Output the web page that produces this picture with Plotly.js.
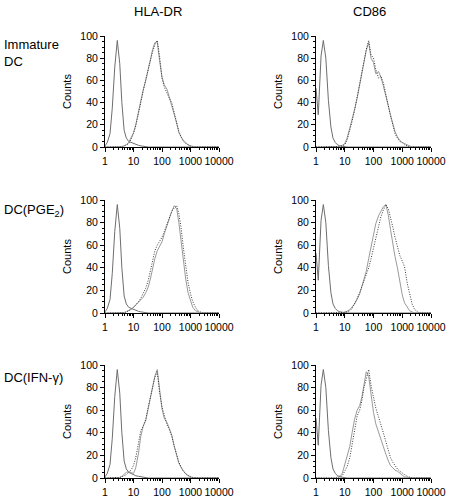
<!DOCTYPE html>
<html>
<head>
<meta charset="utf-8">
<script src="https://cdn.plot.ly/plotly-3.0.1.min.js"></script>
<style>html,body{margin:0;padding:0;background:#fff;}#chart{width:452px;height:498px;}</style>
</head>
<body>
<div id="chart"></div>
<script>
// Fluorescence intensity channels (shared x grid)
var fluor = [1,1.2,1.5,1.8,2.2,2.7,3.3,3.9,4.7,5.6,6.8,8.2,10,12,15,18,22,27,33,39,47,56,68,82,100,120,150,180,220,270,330,390,470,560,680,820,1000,1200,1500,1800,2200,2700,3300,3900,4700,5600,6800,8200,10000];

var columnTitles = ["HLA-DR", "CD86"];
var rowLabels = ["Immature<br>DC", "DC(PGE<sub>2</sub>)", "DC(IFN-γ)"];

// isotype controls
var isoLeft  = [1,4,12,35,72,96,75,40,15,8,5,4,3,2,1.5,1,0.5,0.3,0,0,0,0,0,0,0,0,0,0,0,0,0,0,0,0,0,0,0,0,0,0,0,0,0,0,0,0,0,0,0];
var isoRight = [53,29,82,96,80,42,18,8,4,2,1,0.5,0,0,0,0,0,0,0,0,0,0,0,0,0,0,0,0,0,0,0,0,0,0,0,0,0,0,0,0,0,0,0,0,0,0,0,0,0];

// HLA-DR
var hlaImmA = [0,0,0,0,0,0,0,0.5,1,2,4,8,13,20,33,42,52,60,71,80,88,94,95,78,63,56,52,45,38,29,21,13,9,6,4,2,1,0.3,0,0,0,0,0,0,0,0,0,0,0];
var hlaImmB = [0,0,0,0,0,0,0,0,1,2,3,7,12,19,31,41,50,61,70,79,86,92,96,82,62,54,48,44,40,31,22,14,9,5,3,2,0.5,0,0,0,0,0,0,0,0,0,0,0,0];
var hlaPgeA = [0,0,0,0,0,0,0,0,0.5,1,2,3.5,5,7,9,11,14,18,23,30,40,48,55,59,63,70,78,85,90,95,92,80,62,45,30,18,10,5,2,1,0,0,0,0,0,0,0,0,0];
var hlaPgeB = [0,0,0,0,0,0,0,0,0,1,2,3,5,7,10,13,17,22,29,37,47,55,60,63,67,72,78,84,90,93,95,88,75,58,40,27,17,10,5,2,1,0,0,0,0,0,0,0,0];
var hlaIfnA = [0,0,0,0,0,0,0.5,1.5,3,5,5.5,4.5,4,9,22,37,46,51,62,73,83,90,96,78,61,53,49,44,38,28,19,13,9,6,3.5,2,1,0.3,0,0,0,0,0,0,0,0,0,0,0];
var hlaIfnB = [0,0,0,0,0,0,0.5,1,2,3,5,7,11,18,31,42,46,52,63,72,82,89,94,76,63,55,47,43,37,28,20,14,10,6,4,2.5,1,0.5,0,0,0,0,0,0,0,0,0,0,0];

// CD86
var cd86ImmA = [0,0,0,0,0,0,0,0,0,0.5,1,1.5,3,8,17,24,34,44,56,67,78,87,94,80,76,66,68,63,55,45,37,29,21,14,9,6,4,3,1.5,0.5,0,0,0,0,0,0,0,0,0];
var cd86ImmB = [0,0,0,0,0,0,0,0,0,0,0.5,1,2,6,15,23,33,45,57,68,80,88,96,83,80,70,62,64,58,46,36,28,20,12,8,5,4,2,1,0,0,0,0,0,0,0,0,0,0];
var cd86PgeA = [0,0,0,0,0,0,0,0,0,0,0,0,1,1.5,3,5,8,12,17,23,30,37,48,59,70,79,86,90,94,96,86,74,60,50,40,28,16,9,5,2,1,0,0,0,0,0,0,0,0];
var cd86PgeB = [0,0,0,0,0,0,0,0,0,0,0,0,0.5,1,2,4,8,13,18,23,29,35,40,48,58,67,77,85,91,96,92,83,76,67,58,51,46,41,26,16,8,3,1,0,0,0,0,0,0];
var cd86IfnA = [0,0,0,0,0,0,0,0,0,1,2,4,12,19,28,40,52,60,64,71,84,94,90,72,58,48,40,34,28,21,15,11,9,7,6,4,2.5,1,0.5,0,0,0,0,0,0,0,0,0,0];
var cd86IfnB = [0,0,0,0,0,0,0,0,0,0,1,2,6,10,18,30,44,55,60,68,80,89,96,82,72,62,54,48,40,32,24,18,14,11,8,6,4,3,1.5,0.5,0,0,0,0,0,0,0,0,0];

var panels = [
  {iso: isoLeft,  a: hlaImmA,  b: hlaImmB},
  {iso: isoRight, a: cd86ImmA, b: cd86ImmB},
  {iso: isoLeft,  a: hlaPgeA,  b: hlaPgeB},
  {iso: isoRight, a: cd86PgeA, b: cd86PgeB},
  {iso: isoLeft,  a: hlaIfnA,  b: hlaIfnB},
  {iso: isoRight, a: cd86IfnA, b: cd86IfnB}
];

var W = 452, H = 498;
var colPx = [[105, 219], [316, 431]];
var rowPx = [[36, 147], [200, 313], [365, 478]];

var traces = [];
var layout = {
  width: W, height: H,
  margin: {l: 0, r: 0, t: 0, b: 0},
  paper_bgcolor: "#fff", plot_bgcolor: "#fff",
  showlegend: false,
  font: {family: "Liberation Sans, Arial, sans-serif", size: 10.5, color: "#000"},
  annotations: []
};

panels.forEach(function (p, i) {
  var r = Math.floor(i / 2), c = i % 2;
  var n = i + 1;
  var xa = n === 1 ? "x" : "x" + n, ya = n === 1 ? "y" : "y" + n;
  var common = {x: fluor, xaxis: xa, yaxis: ya, mode: "lines", hoverinfo: "skip"};
  traces.push(Object.assign({}, common, {y: p.iso, line: {color: "#6e6e6e", width: 1}}));
  traces.push(Object.assign({}, common, {y: p.a, line: {color: "#9a9a9a", width: 1}}));
  traces.push(Object.assign({}, common, {y: p.b, line: {color: "#3a3a3a", width: 1, dash: "1px,1.5px"}}));

  var xKey = n === 1 ? "xaxis" : "xaxis" + n, yKey = n === 1 ? "yaxis" : "yaxis" + n;
  layout[xKey] = {
    domain: [colPx[c][0] / W, colPx[c][1] / W],
    anchor: ya, type: "log", range: [0, 4],
    tickvals: [1, 10, 100, 1000, 10000], ticktext: ["1", "10", "100", "1000", "10000"],
    ticks: "outside", ticklen: 4, tickwidth: 1, tickcolor: "#000",
    minor: {ticks: "outside", ticklen: 2, tickwidth: 1, tickcolor: "#000", tickvals: [2,3,4,5,6,7,8,9,20,30,40,50,60,70,80,90,200,300,400,500,600,700,800,900,2000,3000,4000,5000,6000,7000,8000,9000]},
    showline: true, linecolor: "#000", linewidth: 1,
    showgrid: false, zeroline: false, fixedrange: true,
    tickfont: {size: 10.5}
  };
  layout[yKey] = {
    domain: [1 - rowPx[r][1] / H, 1 - rowPx[r][0] / H],
    anchor: xa, range: [0, 100],
    tickvals: [0, 20, 40, 60, 80, 100],
    ticks: "outside", ticklen: 4, tickwidth: 1, tickcolor: "#000",
    minor: {ticks: "outside", ticklen: 2, tickwidth: 1, tickcolor: "#000", dtick: 5},
    showline: true, linecolor: "#000", linewidth: 1,
    showgrid: false, zeroline: false, fixedrange: true,
    tickfont: {size: 10.5},
    title: {text: "Counts", font: {size: 11}, standoff: 6}
  };
});

// column titles
columnTitles.forEach(function (t, c) {
  layout.annotations.push({text: t, xref: "paper", yref: "paper",
    x: ((colPx[c][0] + colPx[c][1]) / 2 - 4) / W, y: 1 - 11 / H,
    xanchor: "center", yanchor: "middle", showarrow: false, font: {size: 13}});
});
// row labels
var rowLabelY = [53, 210, 377];
rowLabels.forEach(function (t, r) {
  layout.annotations.push({text: t, xref: "paper", yref: "paper",
    x: 2 / W, y: 1 - rowLabelY[r] / H, xanchor: "left", yanchor: "middle", align: "left",
    showarrow: false, font: {size: 13}});
});

Plotly.newPlot("chart", traces, layout, {displayModeBar: false, staticPlot: true});
</script>
</body>
</html>
